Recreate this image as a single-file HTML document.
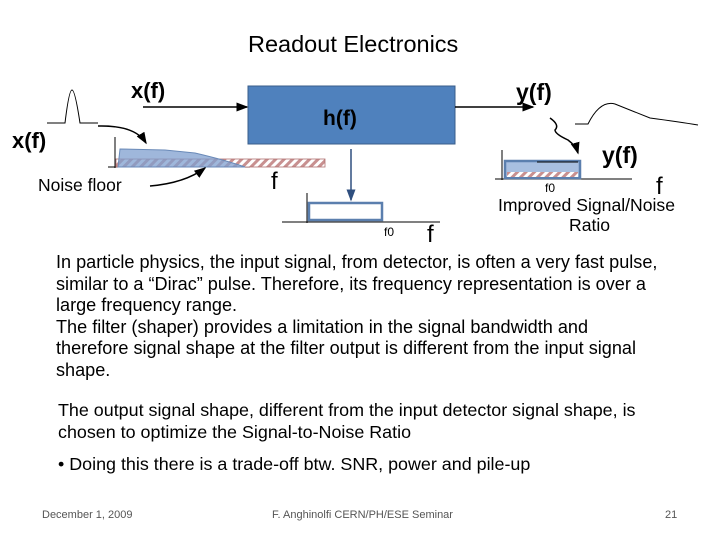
<!DOCTYPE html>
<html><head><style>
body{margin:0;width:720px;height:540px;background:#fff;position:relative;overflow:hidden;font-family:"Liberation Sans",Arial,sans-serif}
.t{position:absolute;white-space:nowrap;color:#000}
.b{font-weight:bold}
</style></head><body>
<svg width="720" height="540" style="position:absolute;left:0;top:0">
<defs>
<pattern id="h" width="6" height="6" patternUnits="userSpaceOnUse" patternTransform="rotate(45)">
<rect width="6" height="6" fill="#fff"/><rect width="3" height="6" fill="#c89090"/></pattern>
<marker id="a" markerWidth="8" markerHeight="8" refX="7" refY="4" orient="auto"><path d="M0,1 L8,4 L0,7z" fill="#000"/></marker>
<marker id="b" markerWidth="8" markerHeight="8" refX="7" refY="4" orient="auto"><path d="M0,1 L8,4 L0,7z" fill="#2f4f7f"/></marker>
</defs>
<path d="M47,123 L65,123 Q69,90 72,90 Q75,90 80,123 L98,123" fill="none" stroke="#000" stroke-width="1"/>
<path d="M98,126 Q135,125 146,143" fill="none" stroke="#000" stroke-width="1.5" marker-end="url(#a)"/>
<line x1="115" y1="137" x2="115" y2="168" stroke="#000"/>
<line x1="108" y1="167" x2="250" y2="167" stroke="#000"/>
<rect x="116" y="159" width="209" height="8" fill="url(#h)" stroke="#b07070" stroke-width="0.8"/>
<path d="M118,167 L120,149 L165,150 L195,153 Q225,160 245,167 Z" fill="#7f9fcf" fill-opacity="0.75" stroke="#6a8ab8"/>
<path d="M150,186 Q185,183 205,168" fill="none" stroke="#000" stroke-width="1.5" marker-end="url(#a)"/>
<rect x="248" y="86" width="207" height="58" fill="#4f81bd" stroke="#385d8a"/>
<line x1="143" y1="107" x2="247" y2="107" stroke="#000" stroke-width="1.5" marker-end="url(#a)"/>
<line x1="455" y1="107" x2="533" y2="107" stroke="#000" stroke-width="1.5" marker-end="url(#a)"/>
<line x1="351" y1="149" x2="351" y2="200" stroke="#2f4f7f" stroke-width="1.5" marker-end="url(#b)"/>
<line x1="307" y1="193" x2="307" y2="223" stroke="#000"/>
<line x1="282" y1="222" x2="440" y2="222" stroke="#000"/>
<rect x="309" y="203" width="73" height="17" fill="#fff" stroke="#5b7fae" stroke-width="2.5"/>
<path d="M575,124 L588,124 Q600,100 615,104 Q630,110 650,118 Q680,122 698,125" fill="none" stroke="#000" stroke-width="1"/>
<path d="M550,118 Q560,125 555,130 Q555,134 568,140 Q576,146 578,153" fill="none" stroke="#000" stroke-width="1.5" marker-end="url(#a)"/>
<line x1="502" y1="150" x2="502" y2="180" stroke="#000"/>
<line x1="495" y1="179" x2="632" y2="179" stroke="#000"/>
<rect x="505" y="161" width="75" height="17" fill="#a8bfe0" stroke="#5b7fae" stroke-width="2.5"/>
<rect x="507" y="172" width="71" height="5" fill="url(#h)"/>
<line x1="537" y1="162" x2="578" y2="162" stroke="#000"/>
</svg>
<div class="t" style="left:248px;top:31px;font-size:23.5px">Readout Electronics</div>
<div class="t b" style="left:131px;top:78px;font-size:22px">x(f)</div>
<div class="t b" style="left:12px;top:128px;font-size:22px">x(f)</div>
<div class="t" style="left:38px;top:175px;font-size:17.5px">Noise floor</div>
<div class="t" style="left:271px;top:168px;font-size:24px">f</div>
<div class="t b" style="left:323px;top:107px;font-size:21px">h(f)</div>
<div class="t b" style="left:516px;top:79px;font-size:23px">y(f)</div>
<div class="t b" style="left:602px;top:142px;font-size:23px">y(f)</div>
<div class="t" style="left:656px;top:173px;font-size:24px">f</div>
<div class="t" style="left:545px;top:181px;font-size:12px">f0</div>
<div class="t" style="left:498px;top:195px;font-size:17.6px">Improved Signal/Noise</div>
<div class="t" style="left:569px;top:215px;font-size:17.6px">Ratio</div>
<div class="t" style="left:384px;top:225px;font-size:12px">f0</div>
<div class="t" style="left:427px;top:221px;font-size:24px">f</div>
<div class="t" style="left:56px;top:252px;font-size:18.1px;line-height:21.6px">In particle physics, the input signal, from detector, is often a very fast pulse,<br>similar to a “Dirac” pulse. Therefore, its frequency representation is over a<br>large frequency range.<br>The filter (shaper) provides a limitation in the signal bandwidth and<br>therefore signal shape at the filter output is different from the input signal<br>shape.</div>
<div class="t" style="left:58px;top:399px;font-size:17.9px;line-height:22px">The output signal shape, different from the input detector signal shape, is<br>chosen to optimize the Signal-to-Noise Ratio</div>
<div class="t" style="left:58px;top:454px;font-size:17.9px">• Doing this there is a trade-off btw. SNR, power and pile-up</div>
<div class="t" style="left:42px;top:509px;font-size:11px;color:#555">December 1, 2009</div>
<div class="t" style="left:272px;top:509px;font-size:11px;color:#555">F. Anghinolfi CERN/PH/ESE Seminar</div>
<div class="t" style="left:665px;top:509px;font-size:11px;color:#555">21</div>
</body></html>
